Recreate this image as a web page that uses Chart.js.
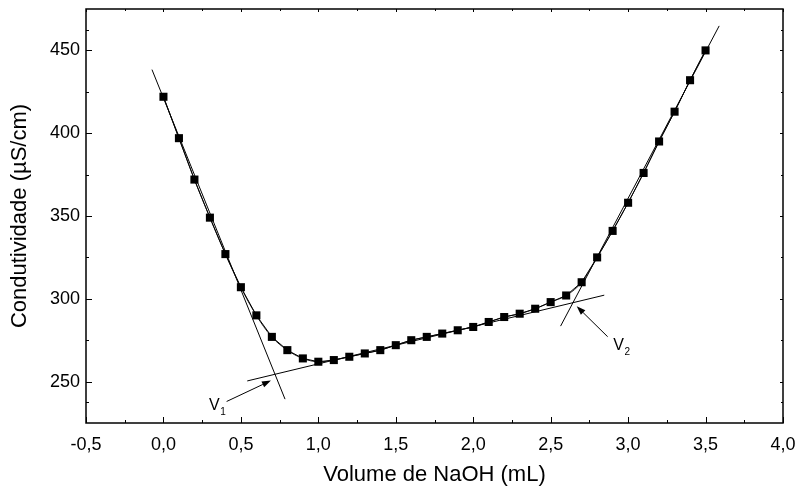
<!DOCTYPE html>
<html>
<head>
<meta charset="utf-8">
<script src="https://cdn.jsdelivr.net/npm/chart.js@4/dist/chart.umd.min.js"></script>
<style>
html,body{margin:0;padding:0;background:#fff;}
#wrap{width:798px;height:490px;}
</style>
</head>
<body>
<div id="wrap"><canvas id="c" width="798" height="490"></canvas></div>
<script>
// ---- data ----
const volume = [0.0,0.1,0.2,0.3,0.4,0.5,0.6,0.7,0.8,0.9,1.0,1.1,1.2,1.3,1.4,1.5,1.6,1.7,1.8,1.9,2.0,2.1,2.2,2.3,2.4,2.5,2.6,2.7,2.8,2.9,3.0,3.1,3.2,3.3,3.4,3.5];
const conductivity = [422,397,372,349,327,307,290,277,269,264,262,263,265,267,269,272,275,277,279,281,283,286,289,291,294,298,302,310,325,341,358,376,395,413,432,450];

const tangent1X = [-0.074, 0.785];
const tangent1Y = [438.4, 239.4];
const tangent2X = [0.541, 2.846];
const tangent2Y = [250.4, 302.2];
const tangent3X = [2.564, 3.588];
const tangent3Y = [283.5, 464.8];

// arrows: [tailX, tailY, headX, headY]
const arrowV1 = [0.408, 238.0, 0.694, 250.6];
const arrowV2 = [2.868, 277.1, 2.668, 295.5];
// labels: [x, y(baseline), main, subscript]
const labelV1 = [0.294, 232.9, 'V', '1'];
const labelV2 = [2.904, 269.1, 'V', '2'];

const xTickValues = [-0.5,0.0,0.5,1.0,1.5,2.0,2.5,3.0,3.5,4.0];
const yTickValues = [250,300,350,400,450];
const xRange = [-0.5, 4.0];
const yRange = [225, 475];

const xTitle = 'Volume de NaOH (mL)';
const yTitle = 'Condutividade (µS/cm)';

// ---- build ----
const pts = volume.map((v,i)=>({x:v, y:conductivity[i]}));
const seg = (xs,ys)=>xs.map((v,i)=>({x:v,y:ys[i]}));

Chart.defaults.font.family = "'Liberation Sans', Arial, Helvetica, sans-serif";
Chart.defaults.color = '#000';

function line(ctx,x1,y1,x2,y2){ctx.beginPath();ctx.moveTo(x1,y1);ctx.lineTo(x2,y2);ctx.stroke();}

const frameTicks = {
  id:'frameTicks',
  afterDatasetsDraw(chart){
    const {ctx, chartArea:{left,right,top,bottom}, scales:{x,y}} = chart;
    ctx.save();
    ctx.strokeStyle='#000';
    ctx.lineWidth=1.5;
    ctx.strokeRect(left,top,right-left,bottom-top);
    ctx.lineWidth=1;
    xTickValues.forEach((v,i)=>{
      const px = Math.round(x.getPixelForValue(v))+0.5;
      line(ctx,px,bottom,px,bottom-6);
      line(ctx,px,top,px,top+3);
      if(i<xTickValues.length-1){
        const m = Math.round(x.getPixelForValue((v+xTickValues[i+1])/2))+0.5;
        line(ctx,m,bottom,m,bottom-3);
        line(ctx,m,top,m,top+2);
      }
    });
    const yAll = [yRange[0]].concat(yTickValues).concat([yRange[1]]);
    yTickValues.forEach((v)=>{
      const py = Math.round(y.getPixelForValue(v))+0.5;
      line(ctx,left,py,left+6,py);
      line(ctx,right,py,right-3,py);
    });
    for(let i=0;i<yAll.length-1;i++){
      const mv=(yAll[i]+yAll[i+1])/2;
      if(yTickValues.indexOf(mv)>=0) continue;
      const py = Math.round(y.getPixelForValue(mv))+0.5;
      line(ctx,left,py,left+3,py);
      line(ctx,right,py,right-2,py);
    }
    // arrows
    [arrowV1,arrowV2].forEach(a=>{
      const tx=x.getPixelForValue(a[0]), ty=y.getPixelForValue(a[1]);
      const hx=x.getPixelForValue(a[2]), hy=y.getPixelForValue(a[3]);
      const ang=Math.atan2(hy-ty,hx-tx);
      const L=9, W=3.2;
      const bx=hx-L*Math.cos(ang), by=hy-L*Math.sin(ang);
      ctx.lineWidth=1;
      line(ctx,tx,ty,bx,by);
      ctx.beginPath();
      ctx.moveTo(hx,hy);
      ctx.lineTo(bx+W*Math.sin(ang), by-W*Math.cos(ang));
      ctx.lineTo(bx-W*Math.sin(ang), by+W*Math.cos(ang));
      ctx.closePath();
      ctx.fillStyle='#000';
      ctx.fill();
    });
    // labels
    [labelV1,labelV2].forEach(l=>{
      const px=x.getPixelForValue(l[0]), py=y.getPixelForValue(l[1]);
      ctx.fillStyle='#000';
      ctx.textAlign='left';
      ctx.textBaseline='alphabetic';
      ctx.font="16px 'Liberation Sans', Arial, sans-serif";
      ctx.fillText(l[2],px,py);
      const w=ctx.measureText(l[2]).width;
      ctx.font="10px 'Liberation Sans', Arial, sans-serif";
      ctx.fillText(l[3],px+w+0.5,py+5);
    });
    ctx.restore();
  }
};

new Chart(document.getElementById('c'),{
  type:'scatter',
  data:{
    datasets:[
      {label:'medido', data:pts, showLine:true, borderColor:'#000', borderWidth:1,
       backgroundColor:'#000', pointStyle:'rect', pointRadius:5.7, pointHoverRadius:5.7,
       pointBorderWidth:0, tension:0, order:0},
      {label:'ajuste', data:pts, showLine:true, borderColor:'#222', borderWidth:1,
       pointRadius:0, tension:0.4, order:1},
      {label:'t1', data:seg(tangent1X,tangent1Y), showLine:true, borderColor:'#000', borderWidth:1, pointRadius:0, order:2},
      {label:'t2', data:seg(tangent2X,tangent2Y), showLine:true, borderColor:'#000', borderWidth:1, pointRadius:0, order:2},
      {label:'t3', data:seg(tangent3X,tangent3Y), showLine:true, borderColor:'#000', borderWidth:1, pointRadius:0, order:2}
    ]
  },
  options:{
    responsive:false,
    animation:false,
    layout:{padding:{top:9,right:15,left:0,bottom:0}},
    plugins:{legend:{display:false}, tooltip:{enabled:false}},
    scales:{
      x:{
        type:'linear', min:xRange[0], max:xRange[1],
        grid:{display:false, drawTicks:false}, border:{display:false},
        afterBuildTicks:(s)=>{s.ticks=xTickValues.map(v=>({value:v}));},
        afterFit:(s)=>{s.height=67; s.paddingLeft=0; s.paddingRight=0;},
        ticks:{padding:11, font:{size:18}, color:'#000', maxRotation:0,
          callback:(v)=>Number(v).toFixed(1).replace('.',',')},
        title:{display:true, text:xTitle, font:{size:22}, color:'#000', padding:{top:0,bottom:2}}
      },
      y:{
        type:'linear', min:yRange[0], max:yRange[1],
        grid:{display:false, drawTicks:false}, border:{display:false},
        afterBuildTicks:(s)=>{s.ticks=yTickValues.map(v=>({value:v}));},
        afterFit:(s)=>{s.width=86; s.paddingTop=0; s.paddingBottom=0;},
        ticks:{padding:6, font:{size:18}, color:'#000', callback:(v)=>String(v)},
        title:{display:true, text:yTitle, font:{size:22}, color:'#000', padding:{top:7,bottom:0}}
      }
    }
  },
  plugins:[frameTicks]
});
</script>
</body>
</html>
